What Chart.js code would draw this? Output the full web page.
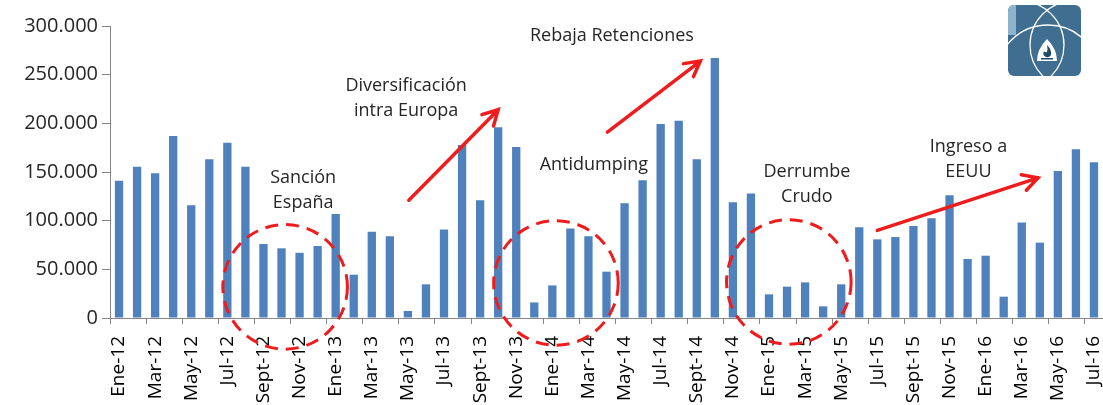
<!DOCTYPE html>
<html>
<head>
<meta charset="utf-8">
<script src="https://cdn.jsdelivr.net/npm/chart.js@4.4.1/dist/chart.umd.min.js"></script>
<style>
  body { margin: 0; background: #fff; }
  #wrap { position: relative; width: 1103px; height: 405px; }
  #logo { position: absolute; left: 1008px; top: 5px; }
</style>
</head>
<body>
<div id="wrap">
  <canvas id="chart" width="1103" height="405"></canvas>
  <svg id="logo" width="73" height="71" viewBox="0 0 73 71">
    <defs><clipPath id="clip"><rect x="0" y="0" width="73" height="71" rx="6"/></clipPath></defs>
    <g clip-path="url(#clip)">
      <rect x="0" y="0" width="73" height="71" fill="#3f6e90"/>
      <rect x="0" y="0" width="8" height="30" fill="#8fb3cb"/>
      <circle cx="40" cy="72" r="52" fill="none" stroke="#fff" stroke-width="1.3"/>
      <circle cx="12" cy="40" r="44" fill="none" stroke="#fff" stroke-width="1.3"/>
      <circle cx="66" cy="40" r="44" fill="none" stroke="#fff" stroke-width="1.3"/>
      <path d="M39 34 Q49 44 49 56 L29 56 Q29 44 39 34 Z" fill="#fff"/>
      <path d="M39 40 Q44 45 43 50 Q41 53 38 52 Q34 50 36 46 Q37 48 39 47 Q40 44 39 40 Z" fill="#1f4a66"/>
      <rect x="33" y="53" width="12" height="1.5" fill="#1f4a66"/>
    </g>
  </svg>
</div>
<script>
// categories (one per month, only every other one is printed)
const labels = [
  'Ene-12', 'Feb-12', 'Mar-12', 'Abr-12', 'May-12', 'Jun-12', 'Jul-12', 'Ago-12', 'Sept-12', 'Oct-12', 'Nov-12', 'Dic-12',
  'Ene-13', 'Feb-13', 'Mar-13', 'Abr-13', 'May-13', 'Jun-13', 'Jul-13', 'Ago-13', 'Sept-13', 'Oct-13', 'Nov-13', 'Dic-13',
  'Ene-14', 'Feb-14', 'Mar-14', 'Abr-14', 'May-14', 'Jun-14', 'Jul-14', 'Ago-14', 'Sept-14', 'Oct-14', 'Nov-14', 'Dic-14',
  'Ene-15', 'Feb-15', 'Mar-15', 'Abr-15', 'May-15', 'Jun-15', 'Jul-15', 'Ago-15', 'Sept-15', 'Oct-15', 'Nov-15', 'Dic-15',
  'Ene-16', 'Feb-16', 'Mar-16', 'Abr-16', 'May-16', 'Jun-16', 'Jul-16'
];

const values = [
  141000, 155500, 148600, 187000, 115800, 163000, 180000, 155500, 76000, 71600, 67000, 74000,
  106800, 44500, 88700, 84000, 7200, 34600, 91000, 177700, 121000, 196000, 175700, 16000,
  33500, 92000, 84000, 47600, 118000, 141400, 199300, 202700, 163000, 267000, 119000, 128000,
  24300, 32200, 36600, 12000, 34600, 93200, 80800, 83200, 94500, 102400, 126000, 60600,
  64000, 21900, 98000, 77400, 151000, 173300, 160000
];

const yTicks = [0, 50000, 100000, 150000, 200000, 250000, 300000];

// annotations: position given in category index / value units
const notes = [
  { lines: ['Sanción', 'España'], x: 10.2, y: 144000 },
  { lines: ['Diversificación', 'intra Europa'], x: 15.9, y: 238000 },
  { lines: ['Rebaja Retenciones'], x: 27.3, y: 290000 },
  { lines: ['Antidumping'], x: 26.3, y: 157000 },
  { lines: ['Derrumbe', 'Crudo'], x: 38.1, y: 150000 },
  { lines: ['Ingreso a', 'EEUU'], x: 47.05, y: 176000 }
];
const circles = [
  { x: 9.2, y: 32000 },
  { x: 24.2, y: 36000 },
  { x: 37.1, y: 37000 }
];
const arrows = [
  { x0: 16.05, y0: 121000, x1: 21.0, y1: 214000 },
  { x0: 27.05, y0: 191000, x1: 32.2, y1: 264000 },
  { x0: 42.0, y0: 90000, x1: 50.9, y1: 144000 }
];

function fmt(v) {
  return String(v).replace(/\B(?=(\d{3})+(?!\d))/g, '.');
}

const overlay = {
  id: 'overlay',
  afterDraw(chart) {
    const c = chart.ctx;
    const xs = chart.scales.x, ys = chart.scales.y;
    const step = xs.getPixelForValue(1) - xs.getPixelForValue(0);
    c.save();
    c.strokeStyle = '#ee1c1c';
    c.lineWidth = 3;
    c.setLineDash([13, 8]);
    circles.forEach(o => {
      c.beginPath();
      c.arc(xs.getPixelForValue(o.x), ys.getPixelForValue(o.y), step * 3.45, 0, Math.PI * 2);
      c.stroke();
    });
    c.setLineDash([]);
    c.lineWidth = 3.5;
    c.lineCap = 'round';
    arrows.forEach(a => {
      const x0 = xs.getPixelForValue(a.x0), y0 = ys.getPixelForValue(a.y0);
      const x1 = xs.getPixelForValue(a.x1), y1 = ys.getPixelForValue(a.y1);
      const ang = Math.atan2(y1 - y0, x1 - x0);
      const h = 17;
      c.beginPath();
      c.moveTo(x0, y0);
      c.lineTo(x1, y1);
      c.moveTo(x1 - h * Math.cos(ang - 0.5), y1 - h * Math.sin(ang - 0.5));
      c.lineTo(x1, y1);
      c.lineTo(x1 - h * Math.cos(ang + 0.5), y1 - h * Math.sin(ang + 0.5));
      c.stroke();
    });
    c.fillStyle = '#262626';
    c.font = '18px "Open Sans"';
    c.textAlign = 'center';
    c.textBaseline = 'middle';
    notes.forEach(n => {
      const x = xs.getPixelForValue(n.x), y = ys.getPixelForValue(n.y);
      n.lines.forEach((t, i) => c.fillText(t, x, y + i * 25));
    });
    c.restore();
  }
};

const ctx = document.getElementById('chart').getContext('2d');
new Chart(ctx, {
  type: 'bar',
  data: {
    labels: labels,
    datasets: [{
      data: values,
      backgroundColor: '#4f81bd',
      barPercentage: 0.46,
      categoryPercentage: 1
    }]
  },
  options: {
    responsive: false,
    animation: false,
    layout: { padding: { left: 0, right: 0, top: 26, bottom: 0 } },
    plugins: {
      legend: { display: false },
      tooltip: { enabled: false }
    },
    scales: {
      x: {
        offset: true,
        grid: {
          offset: true,
          drawOnChartArea: false,
          tickLength: 6,
          color: (c) => (c.index % 2 === 0 ? '#868686' : 'rgba(0,0,0,0)')
        },
        border: { color: '#868686', width: 1 },
        ticks: {
          autoSkip: false,
          minRotation: 90,
          maxRotation: 90,
          padding: 12,
          color: '#000',
          font: { family: '"Open Sans"', size: 19 },
          callback: function (v, i) { return i % 2 === 0 ? labels[i] : ''; }
        },
        afterFit: (s) => { s.height = 87; s.paddingLeft = 0; s.paddingRight = 0; }
      },
      y: {
        min: 0,
        max: 300000,
        afterBuildTicks: (s) => { s.ticks = yTicks.map(v => ({ value: v })); },
        grid: { drawOnChartArea: false, tickLength: 8, color: '#868686' },
        border: { color: '#868686', width: 1 },
        ticks: {
          padding: 4,
          color: '#262626',
          font: { family: '"Open Sans"', size: 20 },
          callback: (v) => fmt(v)
        },
        afterFit: (s) => { s.width = 110; s.paddingTop = 0; s.paddingBottom = 0; }
      }
    }
  },
  plugins: [overlay]
});
</script>
</body>
</html>
